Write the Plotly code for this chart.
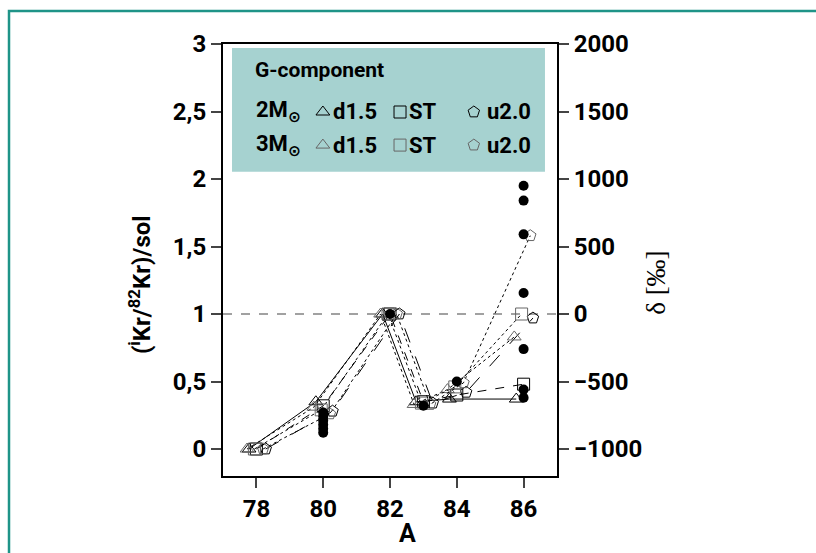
import plotly.graph_objects as go

# ---------------- data ----------------
A = [78, 80, 82, 83, 84, 86]
m2_d15 = [0.00, 0.35, 1.00, 0.35, 0.37, 0.37]
m2_st = [0.00, 0.32, 1.00, 0.35, 0.40, 0.48]
m2_u20 = [0.00, 0.28, 1.00, 0.34, 0.42, 0.97]
m3_d15 = [0.00, 0.31, 1.00, 0.33, 0.44, 0.83]
m3_st = [0.00, 0.29, 1.00, 0.34, 0.46, 1.00]
m3_u20 = [0.00, 0.26, 1.00, 0.33, 0.49, 1.58]

meas_A = [80, 80, 80, 80, 80, 80, 82, 83, 84, 86, 86, 86, 86, 86, 86, 86]
meas_v = [0.27, 0.24, 0.21, 0.18, 0.15, 0.12, 1.00, 0.32, 0.50,
          1.95, 1.84, 1.59, 1.155, 0.74, 0.44, 0.38]

x_ticks = [78, 80, 82, 84, 86]
y_ticks = [0, 0.5, 1, 1.5, 2, 2.5, 3]
y_ticktext = ["0", "0,5", "1", "1,5", "2", "2,5", "3"]
d_ticks = [-1000, -500, 0, 500, 1000, 1500, 2000]

FONT = "Roboto, DejaVu Sans, sans-serif"

fig = go.Figure()

series = [
    ("2M d1.5", m2_d15, "triangle-up-open", -0.22, "solid", "black"),
    ("2M ST", m2_st, "square-open", 0.0, "dash", "black"),
    ("2M u2.0", m2_u20, "pentagon-open", 0.28, "longdash", "black"),
    ("3M d1.5", m3_d15, "triangle-up-open", -0.28, "dot", "#666666"),
    ("3M ST", m3_st, "square-open", -0.06, "dot", "#666666"),
    ("3M u2.0", m3_u20, "pentagon-open", 0.2, "dot", "#666666"),
]
for name, vals, sym, off, dash, mcol in series:
    fig.add_trace(go.Scatter(
        x=[a + off for a in A], y=vals, mode="lines+markers", name=name,
        line=dict(color="black", width=1, dash=dash),
        marker=dict(symbol=sym, size=12, color=mcol, line=dict(width=1, color=mcol)),
        showlegend=False, xaxis="x", yaxis="y"))

fig.add_trace(go.Scatter(
    x=meas_A, y=meas_v, mode="markers", name="measured",
    marker=dict(symbol="circle", size=10, color="black"),
    showlegend=False, xaxis="x", yaxis="y"))

# right axis dummy trace
fig.add_trace(go.Scatter(x=[None], y=[None], xaxis="x", yaxis="y2", showlegend=False))

# legend glyphs on an overlay axis in [0,1]
leg_x = [0.299, 0.530, 0.751]
leg_y = [0.8426, 0.766]
leg_sym = ["triangle-up-open", "square-open", "pentagon-open"]
for j, yy in enumerate(leg_y):
    col = "black" if j == 0 else "#666666"
    for xx, sym in zip(leg_x, leg_sym):
        fig.add_trace(go.Scatter(
            x=[xx], y=[yy], mode="markers", xaxis="x3", yaxis="y3",
            marker=dict(symbol=sym, size=12, color=col, line=dict(width=1, color=col)),
            showlegend=False, hoverinfo="skip"))

TF = dict(family=FONT, size=24, color="black", weight="bold")
fig.update_layout(
    width=816, height=553,
    margin=dict(l=223, r=259, t=44, b=77),
    paper_bgcolor="white", plot_bgcolor="white",
    font=dict(family=FONT, size=24, color="black", weight="bold"),
    xaxis=dict(range=[77, 87], tickvals=x_ticks, ticks="outside", ticklen=10,
               tickwidth=2, showline=True, linewidth=2, linecolor="black",
               mirror=True, showgrid=False, zeroline=False, tickfont=TF),
    yaxis=dict(range=[-0.2, 3.0], tickvals=y_ticks, ticktext=y_ticktext,
               ticks="outside", ticklen=10, tickwidth=2, showline=True,
               linewidth=2, linecolor="black", showgrid=False, zeroline=False,
               tickfont=TF),
    yaxis2=dict(range=[-1200, 2000], tickvals=d_ticks, overlaying="y",
                side="right", ticks="outside", ticklen=10, tickwidth=2,
                showline=True, linewidth=2, linecolor="black", showgrid=False,
                zeroline=False, tickfont=TF),
    xaxis3=dict(range=[0, 1], overlaying="x", visible=False, fixedrange=True),
    yaxis3=dict(range=[0, 1], overlaying="y", visible=False, fixedrange=True),
)

shapes = [
    # outer teal frame
    dict(type="rect", xref="paper", yref="paper", x0=-0.6407, x1=1.80,
         y0=-0.20, y1=1.0764, line=dict(color="#1f9488", width=2.5),
         fillcolor="rgba(0,0,0,0)", layer="below"),
    # legend box
    dict(type="rect", xref="paper", yref="paper", x0=0.027, x1=0.964,
         y0=0.704, y1=0.991, line=dict(width=0), fillcolor="#a6d2d0", layer="below"),
    # reference line at 1
    dict(type="line", xref="paper", yref="y", x0=0, x1=1, y0=1, y1=1,
         line=dict(color="#444444", width=1.2, dash="dash"), layer="below"),
]
fig.update_layout(shapes=shapes)

ann = []
def add(text, x, y, xanchor="left", size=20, bold=True, angle=0, yanchor="middle", family=FONT):
    ann.append(dict(text=text, x=x, y=y, xref="paper", yref="paper",
                    xanchor=xanchor, yanchor=yanchor, showarrow=False, textangle=angle,
                    font=dict(family=family, size=size, color="black",
                              weight="bold" if bold else "normal")))

add("G-component", 0.0898, 0.9398, size=21)
add("2M<sub>⊙</sub>", 0.093, 0.8426, size=22)
add("3M<sub>⊙</sub>", 0.093, 0.766, size=22)
for xx, yy in [(0.324, 0.8426), (0.324, 0.766)]:
    add("d1.5", xx, yy, size=22)
for xx, yy in [(0.552, 0.8426), (0.552, 0.766)]:
    add("ST", xx, yy, size=22)
for xx, yy in [(0.785, 0.8426), (0.785, 0.766)]:
    add("u2.0", xx, yy, size=22)
add("(<sup>i</sup>Kr/<sup>82</sup>Kr)/sol", -0.2485, 0.442, xanchor="center", size=24, angle=-90)
add("δ [‰]", 1.296, 0.4468, xanchor="center", size=27, bold=False, angle=-90,
    family="Liberation Serif, DejaVu Serif, serif")
add("A", 0.551, -0.134, xanchor="center", size=25)
fig.update_layout(annotations=ann)

fig.write_html("out.html")
